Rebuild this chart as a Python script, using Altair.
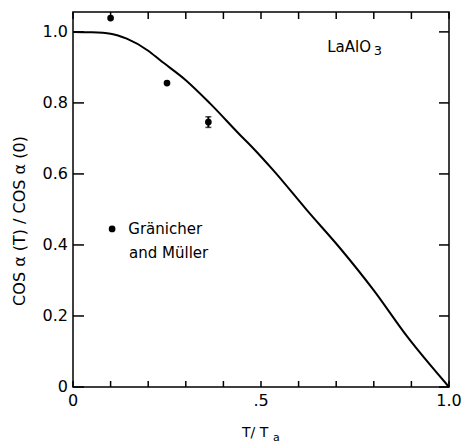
import altair as alt
import pandas as pd

# Theoretical curve cos a(T)/cos a(0) against reduced temperature T/Ta
curve_t = [0.0, 0.05, 0.10, 0.143, 0.20, 0.232, 0.30, 0.365, 0.445, 0.476,
           0.533, 0.622, 0.711, 0.80, 0.888, 1.0]
curve_r = [1.0, 0.999, 0.995, 0.981, 0.947, 0.920, 0.864, 0.798, 0.709, 0.676,
           0.610, 0.498, 0.390, 0.272, 0.143, 0.0]

# Gränicher and Müller measurements
gm_t = [0.10, 0.25, 0.36]
gm_r = [1.039, 0.856, 0.746]
gm_err = [0.0, 0.0, 0.015]

# Axis ticks and their labels
x_ticks = [0.0, 0.1, 0.2, 0.3, 0.4, 0.5, 0.6, 0.7, 0.8, 0.9, 1.0]
y_ticks = [0.0, 0.2, 0.4, 0.6, 0.8, 1.0]
x_label_vals = [0.0, 0.5, 1.0]
x_label_text = ["0", ".5", "1.0"]
y_label_vals = [0.0, 0.2, 0.4, 0.6, 0.8, 1.0]
y_label_text = ["0", "0.2", "0.4", "0.6", "0.8", "1.0"]

FONT = "DejaVu Sans"
W, H = 376, 375

curve = pd.DataFrame({"t": curve_t, "r": curve_r})
pts = pd.DataFrame({"t": gm_t, "r": gm_r, "err": gm_err})
pts["lo"] = pts["r"] - pts["err"]
pts["hi"] = pts["r"] + pts["err"]
bars = pts[pts["err"] > 0]
xt = pd.DataFrame({"t": x_ticks})
yt = pd.DataFrame({"r": y_ticks})
xl = pd.DataFrame({"t": x_label_vals, "label": x_label_text})
yl = pd.DataFrame({"r": y_label_vals, "label": y_label_text})

xs = alt.Scale(domain=[0, 1.0], nice=False, zero=False)
ys = alt.Scale(domain=[0, 1.056], nice=False)

X = "t:Q"
Y = "r:Q"

line = alt.Chart(curve).mark_line(
    color="black", strokeWidth=2, interpolate="monotone"
).encode(
    x=alt.X("t:Q", scale=xs, axis=None),
    y=alt.Y("r:Q", scale=ys, axis=None),
)

# Inward tick marks on all four sides of the frame
tick_style = dict(color="black", strokeWidth=1.5)
ticks_bottom = alt.Chart(xt).mark_rule(**tick_style).encode(
    x=X, y=alt.value(H), y2=alt.value(H - 6)
)
ticks_top = alt.Chart(xt).mark_rule(**tick_style).encode(
    x=X, y=alt.value(0), y2=alt.value(7)
)
ticks_left = alt.Chart(yt).mark_rule(**tick_style).encode(
    y=Y, x=alt.value(0), x2=alt.value(11)
)
ticks_right = alt.Chart(yt).mark_rule(**tick_style).encode(
    y=Y, x=alt.value(W), x2=alt.value(W - 10)
)

# Tick labels
x_labels = alt.Chart(xl).mark_text(
    align="center", baseline="top", font=FONT, fontSize=16, color="black"
).encode(x=X, y=alt.value(H + 6), text="label:N")
y_labels = alt.Chart(yl).mark_text(
    align="right", baseline="middle", font=FONT, fontSize=16, color="black"
).encode(x=alt.value(-5), y=Y, text="label:N")

dots = alt.Chart(pts).mark_circle(color="black", opacity=1, size=45).encode(
    x=X, y=Y
)

err_rule = alt.Chart(bars).mark_rule(color="black", strokeWidth=2).encode(
    x=X, y="lo:Q", y2="hi:Q"
)
cap_lo = alt.Chart(bars).mark_tick(
    color="black", orient="horizontal", size=6, thickness=1.5
).encode(x=X, y="lo:Q")
cap_hi = alt.Chart(bars).mark_tick(
    color="black", orient="horizontal", size=6, thickness=1.5
).encode(x=X, y="hi:Q")

# Key for the measured points
key_dot = alt.Chart(pd.DataFrame({"t": [0.104], "r": [0.445]})).mark_circle(
    color="black", opacity=1, size=45
).encode(x=X, y=Y)
key_text = alt.Chart(pd.DataFrame({
    "t": [0.147, 0.149], "r": [0.445, 0.377], "label": ["Gränicher", "and  Müller"]
})).mark_text(
    align="left", baseline="middle", font=FONT, fontSize=15, color="black"
).encode(x=X, y=Y, text="label:N")

# Compound label LaAlO3 with subscript
compound = alt.Chart(pd.DataFrame({"t": [0.676], "r": [0.957], "label": ["LaAlO"]})).mark_text(
    align="left", baseline="middle", font=FONT, fontSize=15, color="black"
).encode(x=X, y=Y, text="label:N")
compound_sub = alt.Chart(pd.DataFrame({"t": [0.80], "r": [0.945], "label": ["3"]})).mark_text(
    align="left", baseline="middle", font=FONT, fontSize=13, color="black"
).encode(x=X, y=Y, text="label:N")

# Axis titles
y_title = alt.Chart(pd.DataFrame({"label": ["COS α (T) / COS α (0)"]})).mark_text(
    angle=270, align="center", baseline="middle", font=FONT, fontSize=16, color="black"
).encode(x=alt.value(-53), y=alt.value(209), text="label:N")
x_title = alt.Chart(pd.DataFrame({"label": ["T/ T"]})).mark_text(
    align="left", baseline="alphabetic", font=FONT, fontSize=14, color="black"
).encode(x=alt.value(169), y=alt.value(425), text="label:N")
x_title_sub = alt.Chart(pd.DataFrame({"label": ["a"]})).mark_text(
    align="left", baseline="alphabetic", font=FONT, fontSize=11, color="black"
).encode(x=alt.value(200), y=alt.value(429), text="label:N")

chart = alt.layer(
    line, ticks_bottom, ticks_top, ticks_left, ticks_right, x_labels, y_labels,
    dots, err_rule, cap_lo, cap_hi, key_dot, key_text,
    compound, compound_sub, y_title, x_title, x_title_sub,
).properties(
    width=W, height=H,
    autosize=alt.AutoSizeParams(type="none"),
    padding={"left": 73, "top": 12, "right": 12, "bottom": 56},
    background="white",
).configure_view(
    stroke="black", strokeWidth=1.5
)

chart.save("out.html", embed_options={"renderer": "svg", "actions": False})
